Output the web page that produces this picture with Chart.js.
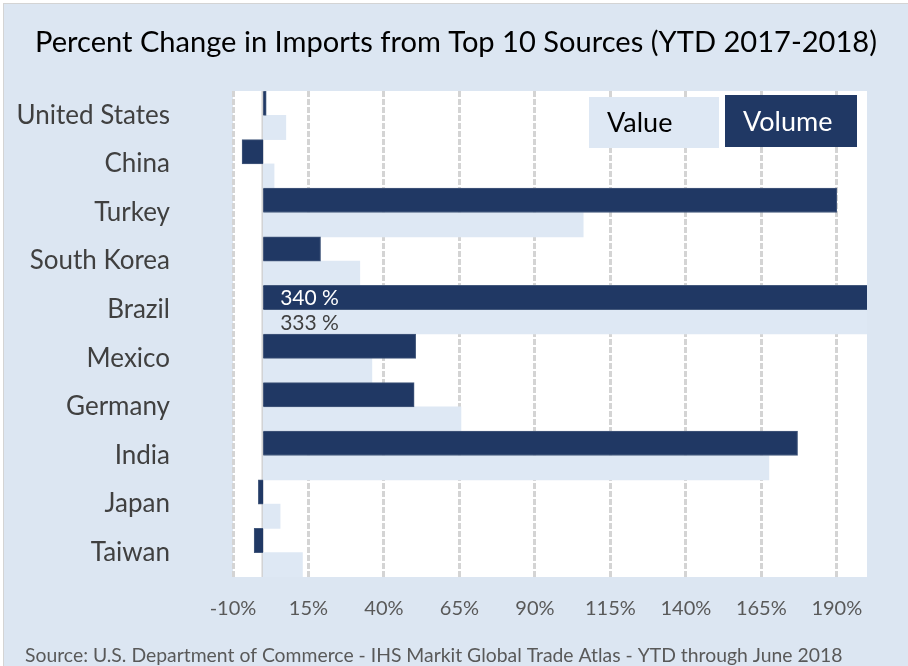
<!DOCTYPE html>
<html>
<head>
<meta charset="utf-8">
<script src="https://cdn.jsdelivr.net/npm/chart.js@4"></script>
<style>
html, body { margin: 0; padding: 0; background: #fff; }
#wrap { width: 908px; height: 666px; }
</style>
</head>
<body>
<div id="wrap"><canvas id="myChart"></canvas></div>
<script>
var countries = ['United States', 'China', 'Turkey', 'South Korea', 'Brazil',
    'Mexico', 'Germany', 'India', 'Japan', 'Taiwan'];
var volumeChange = [1, -7, 190, 19, 340, 50.5, 50, 177, -1.6, -3];
var valueChange = [7.5, 3.6, 106, 32, 333, 36, 65.5, 167.5, 5.6, 13];
var xTicks = [-10, 15, 40, 65, 90, 115, 140, 165, 190];
var titleText = 'Percent Change in Imports from Top 10 Sources (YTD 2017-2018)';
var sourceText = 'Source: U.S. Department of Commerce - IHS Markit Global Trade Atlas - YTD through June 2018';

var darkBlue = '#203864';
var lightBlue = '#dee8f4';
var bgBlue = '#dce6f2';
var fontFamily = 'Lato, "Liberation Sans", sans-serif';

// fit a string into a given width
function fitFont(ctx, text, width, weight) {
    ctx.font = weight + ' 100px ' + fontFamily;
    var w = ctx.measureText(text).width;
    return weight + ' ' + (100 * width / w).toFixed(2) + 'px ' + fontFamily;
}

var decorations = {
    id: 'decorations',
    beforeDraw: function (chart) {
        var c = chart.ctx, a = chart.chartArea;
        c.save();
        c.fillStyle = '#fff';
        c.fillRect(0, 0, chart.width, chart.height);
        c.fillStyle = bgBlue;
        c.fillRect(3, 3, chart.width - 3, chart.height - 3);
        c.strokeStyle = '#d4d4d4';
        c.lineWidth = 1;
        c.strokeRect(3.5, 3.5, chart.width, chart.height);
        c.fillStyle = '#fff';
        c.fillRect(a.left, a.top, a.right - a.left, a.bottom - a.top);
        c.restore();
    },
    beforeDatasetsDraw: function (chart) {
        var c = chart.ctx, a = chart.chartArea;
        var x0 = Math.round(chart.scales.x.getPixelForValue(0)) - 0.5;
        c.save();
        c.strokeStyle = '#d0d0d0';
        c.lineWidth = 2;
        c.beginPath();
        c.moveTo(x0, a.top);
        c.lineTo(x0, a.bottom);
        c.stroke();
        c.restore();
    },
    afterDraw: function (chart) {
        var c = chart.ctx, a = chart.chartArea;
        var xs = chart.scales.x;
        c.save();

        // title
        c.fillStyle = '#000';
        c.font = fitFont(c, titleText, 842, 'normal');
        c.textAlign = 'left';
        c.textBaseline = 'middle';
        c.fillText(titleText, 35, 43);

        // source note
        c.fillStyle = '#595959';
        c.font = fitFont(c, sourceText, 818, 'normal');
        c.fillText(sourceText, 25, 656);

        // values running past the axis end
        chart.data.datasets.forEach(function (ds, di) {
            var meta = chart.getDatasetMeta(di);
            ds.data.forEach(function (v, i) {
                if (v <= xs.max) return;
                var bar = meta.data[i];
                c.font = '21px ' + fontFamily;
                c.fillStyle = ds.labelColor;
                c.textAlign = 'left';
                c.textBaseline = 'middle';
                c.fillText(v + ' %', xs.getPixelForValue(0) + 17, bar.y + 1);
            });
        });

        // legend boxes (Value, then Volume)
        var boxes = [
            { ds: 1, x: 589, y: 97, w: 130, h: 51 },
            { ds: 0, x: 725, y: 95, w: 132, h: 52 }
        ];
        boxes.forEach(function (b) {
            var ds = chart.data.datasets[b.ds];
            c.fillStyle = ds.backgroundColor;
            c.fillRect(b.x, b.y, b.w, b.h);
            c.fillStyle = ds.legendText;
            c.font = '27px ' + fontFamily;
            c.textAlign = 'left';
            c.textBaseline = 'middle';
            c.fillText(ds.label, b.x + 18, b.y + b.h / 2 + 1);
        });
        c.restore();
    }
};

var ctx = document.getElementById('myChart').getContext('2d');
var myChart = new Chart(ctx, {
    type: 'bar',
    data: {
        labels: countries,
        datasets: [{
            label: 'Volume',
            data: volumeChange,
            backgroundColor: darkBlue,
            borderColor: '#44597c',
            borderWidth: 1,
            labelColor: '#ffffff',
            legendText: '#ffffff'
        }, {
            label: 'Value',
            data: valueChange,
            backgroundColor: lightBlue,
            borderWidth: 0,
            labelColor: '#404040',
            legendText: '#000000'
        }]
    },
    options: {
        responsive: true,
        maintainAspectRatio: false,
        animation: false,
        indexAxis: 'y',
        layout: {
            padding: { left: 0, right: 41, top: 91, bottom: 39 }
        },
        datasets: {
            bar: { barPercentage: 1, categoryPercentage: 1 }
        },
        plugins: {
            legend: { display: false },
            tooltip: { enabled: false }
        },
        scales: {
            x: {
                min: -10,
                max: 200,
                afterBuildTicks: function (scale) {
                    scale.ticks = xTicks.map(function (v) { return { value: v }; });
                },
                afterFit: function (scale) { scale.height = 50; },
                ticks: {
                    padding: 20,
                    color: '#595959',
                    font: { family: fontFamily, size: 20 },
                    callback: function (v) { return v + '%'; }
                },
                grid: {
                    drawTicks: false,
                    color: '#d4d4d4',
                    lineWidth: 3
                },
                border: { display: false, dash: [6, 2] }
            },
            y: {
                afterFit: function (scale) { scale.width = 233; },
                ticks: {
                    padding: 63,
                    color: '#404040',
                    font: { family: fontFamily, size: 26 }
                },
                grid: { display: false, drawTicks: false },
                border: { display: false }
            }
        }
    },
    plugins: [decorations]
});
</script>
</body>
</html>
